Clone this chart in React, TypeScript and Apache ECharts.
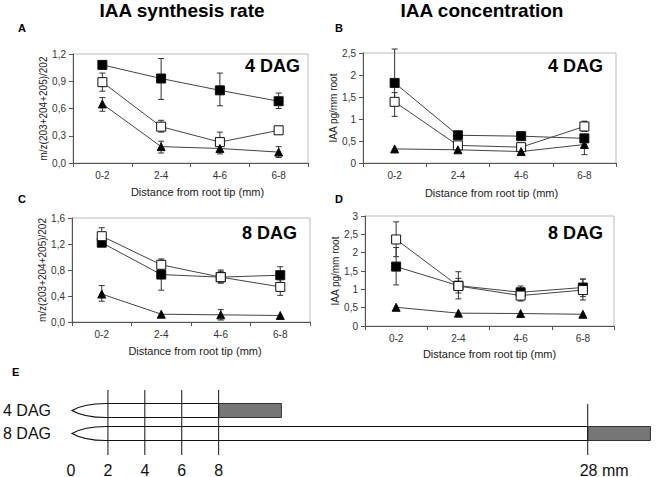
import React, { useEffect, useRef } from 'react';
import * as echarts from 'echarts';

const FONT = '"Liberation Sans", Arial, sans-serif';

// x categories for panels A-D
const categories = ['0-2', '2-4', '4-6', '6-8'];

// Panel A – IAA synthesis rate, 4 DAG
const aFilled = [1.08, 0.93, 0.80, 0.68];
const aFilledLow = [1.08, 0.70, 0.63, 0.60];
const aFilledHigh = [1.08, 1.15, 0.99, 0.77];
const aOpen = [0.89, 0.40, 0.23, 0.36];
const aOpenLow = [0.79, 0.34, 0.12, 0.36];
const aOpenHigh = [0.99, 0.47, 0.34, 0.36];
const aTri = [0.65, 0.18, 0.16, 0.12];
const aTriLow = [0.57, 0.11, 0.10, 0.06];
const aTriHigh = [0.72, 0.24, 0.22, 0.18];

// Panel B – IAA concentration, 4 DAG
const bFilled = [1.82, 0.63, 0.61, 0.56];
const bFilledLow = [1.40, 0.55, 0.61, 0.48];
const bFilledHigh = [2.59, 0.72, 0.61, 0.64];
const bOpen = [1.39, 0.40, 0.36, 0.83];
const bOpenLow = [1.06, 0.33, 0.36, 0.72];
const bOpenHigh = [1.60, 0.48, 0.36, 0.95];
const bTri = [0.32, 0.30, 0.26, 0.42];
const bTriLow = [0.32, 0.30, 0.26, 0.19];
const bTriHigh = [0.32, 0.30, 0.26, 0.62];

// Panel C – IAA synthesis rate, 8 DAG
const cFilled = [1.22, 0.73, 0.69, 0.72];
const cFilledLow = [1.18, 0.49, 0.60, 0.60];
const cFilledHigh = [1.26, 0.95, 0.78, 0.85];
const cOpen = [1.32, 0.88, 0.69, 0.54];
const cOpenLow = [1.20, 0.80, 0.60, 0.41];
const cOpenHigh = [1.45, 0.97, 0.80, 0.65];
const cTri = [0.43, 0.12, 0.11, 0.10];
const cTriLow = [0.32, 0.12, 0.03, 0.10];
const cTriHigh = [0.56, 0.12, 0.19, 0.10];

// Panel D – IAA concentration, 8 DAG
const dFilled = [1.62, 1.10, 0.92, 1.05];
const dFilledLow = [1.12, 0.90, 0.80, 0.80];
const dFilledHigh = [2.14, 1.30, 1.09, 1.28];
const dOpen = [2.36, 1.09, 0.83, 0.98];
const dOpenLow = [1.89, 0.74, 0.68, 0.71];
const dOpenHigh = [2.84, 1.48, 0.95, 1.28];
const dTri = [0.51, 0.35, 0.34, 0.32];

// y-axis scales
const yMax = [1.2, 2.5, 1.6, 3];
const yStep = [0.3, 0.5, 0.4, 0.5];
const yNames = ['m/z(203+204+205)/202', 'IAA pg/mm root', 'm/z(203+204+205)/202', 'IAA pg/mm root'];
const dagLabels = ['4 DAG', '4 DAG', '8 DAG', '8 DAG'];

// Panel E – root schematic
const stages = ['4 DAG', '8 DAG'];
const rootLengthMm = [8, 28];
const zoneLengthMm = [3.4, 3.4];
const tickMm = [0, 2, 4, 6, 8, 28];
const tickLabels = ['0', '2', '4', '6', '8', '28 mm'];

type Panel = {
  filled: number[]; filledLow: number[]; filledHigh: number[];
  open: number[]; openLow: number[]; openHigh: number[];
  tri: number[]; triLow: number[]; triHigh: number[];
};

const panels: Panel[] = [
  { filled: aFilled, filledLow: aFilledLow, filledHigh: aFilledHigh, open: aOpen, openLow: aOpenLow, openHigh: aOpenHigh, tri: aTri, triLow: aTriLow, triHigh: aTriHigh },
  { filled: bFilled, filledLow: bFilledLow, filledHigh: bFilledHigh, open: bOpen, openLow: bOpenLow, openHigh: bOpenHigh, tri: bTri, triLow: bTriLow, triHigh: bTriHigh },
  { filled: cFilled, filledLow: cFilledLow, filledHigh: cFilledHigh, open: cOpen, openLow: cOpenLow, openHigh: cOpenHigh, tri: cTri, triLow: cTriLow, triHigh: cTriHigh },
  { filled: dFilled, filledLow: dFilledLow, filledHigh: dFilledHigh, open: dOpen, openLow: dOpenLow, openHigh: dOpenHigh, tri: dTri, triLow: dTri, triHigh: dTri },
];

const grids = [
  { left: 73, top: 54, width: 235, height: 109 },
  { left: 363, top: 53, width: 253, height: 110 },
  { left: 72, top: 218, width: 238, height: 104 },
  { left: 365, top: 216, width: 249, height: 110 },
];
const xNameGap = [23, 24, 23, 22];
const xNamePad = [[0, 0, 0, 14], [0, 0, 0, 4], [0, 0, 0, 8], [0, 0, 0, 0]];
const yNameGap = [23, 23, 23, 25];

function errorSeries(p: number, low: number[], high: number[]) {
  return {
    type: 'custom',
    xAxisIndex: p,
    yAxisIndex: p,
    clip: false,
    z: 2,
    encode: { x: 0, y: [1, 2] },
    data: low.map((l, i) => [i, l, high[i]]),
    renderItem: (params: any, api: any) => {
      const lo = api.value(1);
      const hi = api.value(2);
      if (Math.abs(hi - lo) < 1e-6) return null;
      const p1 = api.coord([api.value(0), lo]);
      const p2 = api.coord([api.value(0), hi]);
      const cap = 3;
      const st = { stroke: '#333', lineWidth: 1 };
      return {
        type: 'group',
        children: [
          { type: 'line', shape: { x1: p1[0], y1: p1[1], x2: p2[0], y2: p2[1] }, style: st },
          { type: 'line', shape: { x1: p1[0] - cap, y1: p1[1], x2: p1[0] + cap, y2: p1[1] }, style: st },
          { type: 'line', shape: { x1: p2[0] - cap, y1: p2[1], x2: p2[0] + cap, y2: p2[1] }, style: st },
        ],
      };
    },
  };
}

function lineSeries(p: number, data: number[], kind: 'filled' | 'open' | 'tri') {
  return {
    type: 'line',
    xAxisIndex: p,
    yAxisIndex: p,
    data,
    z: 3,
    symbol: kind === 'tri' ? 'triangle' : 'rect',
    symbolSize: kind === 'tri' ? 8 : 9,
    itemStyle: {
      color: kind === 'open' ? '#fff' : '#000',
      borderColor: '#111',
      borderWidth: 1,
    },
    lineStyle: { color: '#444', width: 1 },
    emphasis: { disabled: true },
  };
}

function fmt(p: number) {
  return (v: number) => {
    if (p === 0 || p === 2) return v.toFixed(1).replace('.', ',');
    return String(Math.round(v * 10) / 10).replace('.', ',');
  };
}

export default function App() {
  const ref = useRef<HTMLDivElement>(null);
  useEffect(() => {
    if (!ref.current) return;
    const chart = echarts.init(ref.current, null, { renderer: 'svg' });

    const xAxes: any[] = grids.map((_, p) => ({
      type: 'category',
      gridIndex: p,
      data: categories,
      boundaryGap: true,
      axisLine: { lineStyle: { color: '#555', width: 1 } },
      axisTick: { show: true, length: 4, lineStyle: { color: '#555' } },
      axisLabel: { fontSize: 10, color: '#333', margin: 7, fontFamily: FONT },
      name: 'Distance from root tip (mm)',
      nameLocation: 'middle',
      nameGap: xNameGap[p],
      nameTextStyle: { fontSize: 11, color: '#222', fontFamily: FONT, padding: xNamePad[p] },
      splitLine: { show: false },
    }));
    const yAxes: any[] = grids.map((_, p) => ({
      type: 'value',
      gridIndex: p,
      min: 0,
      max: yMax[p],
      interval: yStep[p],
      axisLine: { show: true, lineStyle: { color: '#555', width: 1 } },
      axisTick: { show: true, length: 4, lineStyle: { color: '#555' } },
      axisLabel: { fontSize: 10, color: '#333', margin: 7, fontFamily: FONT, formatter: fmt(p) },
      splitLine: { show: false },
      name: yNames[p],
      nameLocation: 'middle',
      nameGap: yNameGap[p],
      nameTextStyle: { fontSize: 10, color: '#222', fontFamily: FONT },
    }));

    // panel E axes
    xAxes.push({ type: 'value', gridIndex: 4, min: 0, max: 31.7, show: false });
    yAxes.push({
      type: 'category',
      gridIndex: 4,
      data: stages,
      inverse: true,
      axisLine: { show: false },
      axisTick: { show: false },
      splitLine: { show: false },
      axisLabel: { fontSize: 16, color: '#111', margin: 20, fontFamily: FONT },
    });

    const series: any[] = [];
    panels.forEach((pd, p) => {
      series.push(errorSeries(p, pd.filledLow, pd.filledHigh));
      series.push(errorSeries(p, pd.openLow, pd.openHigh));
      series.push(errorSeries(p, pd.triLow, pd.triHigh));
      series.push(lineSeries(p, pd.filled, 'filled'));
      series.push(lineSeries(p, pd.open, 'open'));
      series.push(lineSeries(p, pd.tri, 'tri'));
    });

    // roots
    series.push({
      type: 'custom',
      xAxisIndex: 4,
      yAxisIndex: 4,
      clip: false,
      z: 2,
      encode: { x: 0, y: 1 },
      data: rootLengthMm.map((len, i) => [len, i, zoneLengthMm[i]]),
      renderItem: (params: any, api: any) => {
        const len = api.value(0);
        const row = api.value(1);
        const zone = api.value(2);
        const start = api.coord([0, row]);
        const x0 = start[0] + 1;
        const yc = start[1];
        const x1 = api.coord([len, row])[0];
        const x2 = api.coord([len + zone, row])[0];
        const h = 7;
        const pathData =
          `M${x1} ${yc - h} L${x0 + 34} ${yc - h} Q${x0 + 12} ${yc - h} ${x0} ${yc} ` +
          `Q${x0 + 12} ${yc + h} ${x0 + 34} ${yc + h} L${x1} ${yc + h}`;
        return {
          type: 'group',
          children: [
            { type: 'path', shape: { pathData }, style: { fill: '#fff', stroke: '#111', lineWidth: 1.2 } },
            {
              type: 'rect',
              shape: { x: x1, y: yc - h, width: x2 - x1, height: 2 * h },
              style: { fill: '#777', stroke: '#333', lineWidth: 1 },
            },
          ],
        };
      },
    });

    // scale ticks
    series.push({
      type: 'custom',
      xAxisIndex: 4,
      yAxisIndex: 4,
      clip: false,
      z: 3,
      encode: { x: 0, y: 1 },
      data: tickMm.map((v, i) => [v, 0, i]),
      renderItem: (params: any, api: any) => {
        const v = api.value(0);
        const idx = api.value(2);
        const x = api.coord([v, 0])[0];
        const y4 = api.coord([0, 0])[1];
        const y8 = api.coord([0, 1])[1];
        const children: any[] = [];
        if (v > 0) {
          const top = v > 10 ? y8 - 29.5 : y4 - 20.5;
          children.push({
            type: 'line',
            shape: { x1: x, y1: top, x2: x, y2: y8 + 21.5 },
            style: { stroke: '#111', lineWidth: 1 },
          });
        }
        const isLast = v > 10;
        children.push({
          type: 'text',
          x: isLast ? x - 8 : x,
          y: y8 + 36.5,
          style: {
            text: tickLabels[idx],
            fontSize: 16,
            fontFamily: FONT,
            fill: '#111',
            align: isLast ? 'left' : 'center',
            verticalAlign: 'middle',
          },
        });
        return { type: 'group', children };
      },
    });

    const textEl = (text: string, x: number, y: number, font: string, align = 'center') => ({
      type: 'text',
      x,
      y,
      style: { text, font, fill: '#000', textAlign: align, textVerticalAlign: 'middle' },
    });

    const graphic: any[] = [
      textEl('IAA synthesis rate', 182, 10, `bold 19px ${FONT}`),
      textEl('IAA concentration', 482, 10, `bold 19px ${FONT}`),
      textEl('A', 18, 28, `bold 11px ${FONT}`, 'left'),
      textEl('B', 335, 28, `bold 11px ${FONT}`, 'left'),
      textEl('C', 18, 199, `bold 11px ${FONT}`, 'left'),
      textEl('D', 335, 199, `bold 11px ${FONT}`, 'left'),
      textEl('E', 12, 372, `bold 11px ${FONT}`, 'left'),
      textEl(dagLabels[0], 300, 66, `bold 18px ${FONT}`, 'right'),
      textEl(dagLabels[1], 603, 66, `bold 18px ${FONT}`, 'right'),
      textEl(dagLabels[2], 297, 233, `bold 18px ${FONT}`, 'right'),
      textEl(dagLabels[3], 603, 233, `bold 18px ${FONT}`, 'right'),
    ];

    chart.setOption({
      animation: false,
      backgroundColor: '#fff',
      textStyle: { fontFamily: FONT },
      grid: [
        ...grids.map((g) => ({ ...g, show: true, borderColor: '#bbb', borderWidth: 1, backgroundColor: 'transparent' })),
        { left: 71, top: 399, width: 585, height: 46, show: false },
      ],
      xAxis: xAxes,
      yAxis: yAxes,
      series,
      graphic,
    });

    return () => chart.dispose();
  }, []);

  return (
    <div
      ref={ref}
      style={{ position: 'absolute', left: 0, top: 0, width: 656, height: 477, background: '#fff' }}
    />
  );
}
